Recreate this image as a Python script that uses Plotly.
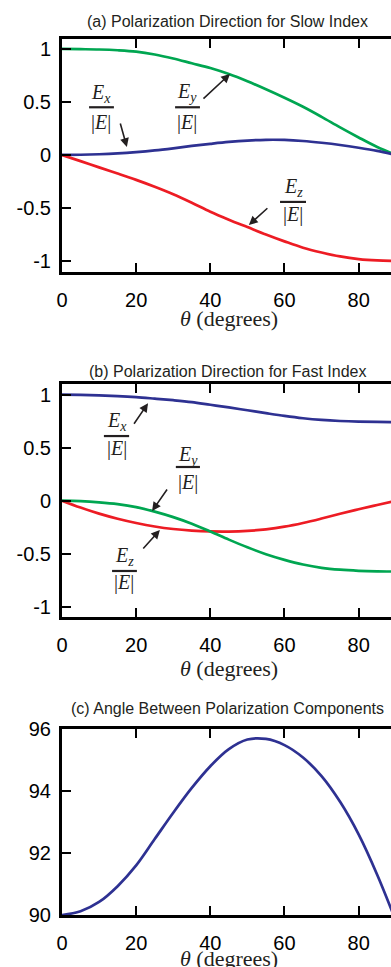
import plotly.graph_objects as go

# ---------------- data ----------------
theta = [0, 5, 10, 15, 20, 25, 30, 35, 40, 45, 50, 55, 60, 65, 70, 75, 80, 85, 90]

# (a) slow index
slow_ex = [0.0, 0.002, 0.007, 0.015, 0.027, 0.043, 0.063, 0.085, 0.105, 0.123, 0.136,
           0.143, 0.142, 0.132, 0.115, 0.094, 0.068, 0.038, 0.0]
slow_ey = [1.0, 0.998, 0.995, 0.988, 0.975, 0.948, 0.91, 0.865, 0.82, 0.763, 0.695,
           0.62, 0.54, 0.455, 0.36, 0.26, 0.165, 0.075, 0.0]
slow_ez = [0.0, -0.058, -0.117, -0.175, -0.235, -0.30, -0.37, -0.45, -0.535, -0.61, -0.68,
           -0.75, -0.815, -0.875, -0.92, -0.957, -0.982, -0.995, -1.0]

# (b) fast index
fast_ex = [1.0, 0.998, 0.994, 0.987, 0.977, 0.963, 0.948, 0.93, 0.905, 0.88, 0.853,
           0.826, 0.80, 0.778, 0.762, 0.752, 0.746, 0.743, 0.742]
fast_ey = [0.0, -0.004, -0.015, -0.032, -0.06, -0.103, -0.155, -0.217, -0.29, -0.367, -0.44,
           -0.505, -0.558, -0.602, -0.633, -0.651, -0.661, -0.666, -0.668]
fast_ez = [0.0, -0.065, -0.122, -0.17, -0.21, -0.243, -0.267, -0.282, -0.29, -0.291, -0.285,
           -0.27, -0.245, -0.21, -0.168, -0.123, -0.08, -0.04, 0.0]

# (c) angle between polarization components (degrees)
angle = [90.0, 90.12, 90.42, 90.93, 91.6, 92.45, 93.3, 94.1, 94.8, 95.35, 95.66,
         95.68, 95.48, 95.08, 94.48, 93.65, 92.6, 91.3, 89.82]

x_ticks = [0, 20, 40, 60, 80]
x_ticktext = ["0", "20", "40", "60", "80"]
ab_ticks = [-1, -0.5, 0, 0.5, 1]
ab_ticktext = ["-1", "-0.5", "0", "0.5", "1"]
c_ticks = [90, 92, 94, 96]
c_ticktext = ["90", "92", "94", "96"]

titles = ["(a) Polarization Direction for Slow Index",
          "(b) Polarization Direction for Fast Index",
          "(c) Angle Between Polarization Components"]
x_title = "<i>θ</i> (degrees)"

# ---------------- styling ----------------
W, H = 391, 967
BLUE = "#2E3192"
GREEN = "#00A651"
RED = "#ED1C24"
INK = "#231F20"
SANS = "Liberation Sans, Arial, sans-serif"
SERIF = "Liberation Serif, Times New Roman, serif"

def py(p):  # pixel row -> paper y
    return 1 - p / H

def px(p):  # pixel column -> paper x
    return p / W

X0 = 62
x_dom = [px(X0), 1.0]
x_range = [0, (W - X0) / 3.708]

panels = [  # (top px, bottom px, y range)
    (39, 272, [-1.104, 1.094]),
    (384, 617, [-1.097, 1.101]),
    (729, 915, [90, 96]),
]

fig = go.Figure()

def add_line(x, y, color, k):
    fig.add_trace(go.Scatter(x=x, y=y, mode="lines",
                             line=dict(color=color, width=2.7, shape="spline", smoothing=1.0),
                             xaxis="x" if k == 1 else f"x{k}", yaxis="y" if k == 1 else f"y{k}",
                             showlegend=False, hoverinfo="skip"))

add_line(theta, slow_ey, GREEN, 1)
add_line(theta, slow_ex, BLUE, 1)
add_line(theta, slow_ez, RED, 1)
add_line(theta, fast_ex, BLUE, 2)
add_line(theta, fast_ez, RED, 2)
add_line(theta, fast_ey, GREEN, 2)
add_line(theta, angle, BLUE, 3)

layout = dict(width=W, height=H, margin=dict(l=0, r=0, t=0, b=0, pad=0), autosize=False,
              paper_bgcolor="white", plot_bgcolor="white", showlegend=False)

tickfont = dict(family=SANS, size=20, color="black")
for i, (top, bot, yr) in enumerate(panels, start=1):
    xs = "" if i == 1 else str(i)
    ys_main = "" if i == 1 else str(i)
    yt, ytt = (c_ticks, c_ticktext) if i == 3 else (ab_ticks, ab_ticktext)
    layout[f"xaxis{xs}"] = dict(domain=x_dom, anchor=f"y{ys_main}", range=x_range,
                                tickvals=x_ticks, ticktext=x_ticktext, ticks="inside",
                                ticklen=9, tickwidth=2, tickcolor="black",
                                showline=True, linewidth=3, linecolor="black", mirror="ticks",
                                showgrid=False, zeroline=False, tickfont=tickfont,
                                ticklabelstandoff=8, automargin=False)
    layout[f"yaxis{ys_main}"] = dict(domain=[py(bot), py(top)], anchor=f"x{xs}", range=yr,
                                     tickvals=yt, ticktext=ytt, ticks="inside",
                                     ticklen=9, tickwidth=2, tickcolor="black",
                                     showline=True, linewidth=3, linecolor="black",
                                     showgrid=False, zeroline=False, tickfont=tickfont,
                                     ticklabelstandoff=4, automargin=False)
    # right-hand ticks without a frame line (frame is cut off at window edge)
    layout[f"yaxis{i + 3}"] = dict(overlaying=f"y{ys_main}", anchor=f"x{xs}", side="right",
                                  range=yr, tickvals=yt, ticks="inside", ticklen=6, tickwidth=2,
                                  tickcolor="black", showticklabels=False, showline=False,
                                  showgrid=False, zeroline=False, automargin=False)

fig.update_layout(**layout)

ann = []
title_y = [21, 371.5, 708]
xtitle_y = [318, 668, 958.5]
for t, ty, xty in zip(titles, title_y, xtitle_y):
    ann.append(dict(text=t, x=px(227), y=py(ty), xref="paper", yref="paper",
                    xanchor="center", yanchor="middle", showarrow=False,
                    font=dict(family=SANS, size=16, color=INK)))
    ann.append(dict(text=x_title, x=px(229), y=py(xty), xref="paper", yref="paper",
                    xanchor="center", yanchor="middle", showarrow=False,
                    font=dict(family=SERIF, size=22, color=INK)))

frac_font = dict(family=SERIF, size=20, color=INK)
shapes = []

def fraction(sub, xc, y_num, y_bar, y_den, xb0, xb1, k):
    xr = "x" if k == 1 else f"x{k}"
    yr = "y" if k == 1 else f"y{k}"
    ann.append(dict(text=f"<i>E<sub>{sub}</sub></i>", x=xc, y=y_num, xref=xr, yref=yr,
                    showarrow=False, font=frac_font, xanchor="center", yanchor="middle"))
    ann.append(dict(text="|<i>E</i>|", x=xc, y=y_den, xref=xr, yref=yr,
                    showarrow=False, font=frac_font, xanchor="center", yanchor="middle"))
    shapes.append(dict(type="line", xref=xr, yref=yr, x0=xb0, x1=xb1, y0=y_bar, y1=y_bar,
                       line=dict(color=INK, width=2.2)))

def arrow(xh, yh, ax, ay, k):
    xr = "x" if k == 1 else f"x{k}"
    yr = "y" if k == 1 else f"y{k}"
    ann.append(dict(text="", x=xh, y=yh, xref=xr, yref=yr, showarrow=True, ax=ax, ay=ay,
                    arrowhead=2, arrowsize=1.1, arrowwidth=1.6, arrowcolor=INK))

# panel (a)
fraction("x", 10.6, 0.58, 0.45, 0.31, 7.3, 14.0, 1)
arrow(17.5, 0.075, -7, -25, 1)
fraction("y", 33.8, 0.585, 0.45, 0.31, 30.5, 37.2, 1)
arrow(45.3, 0.764, -28, 26, 1)
fraction("z", 62.3, -0.31, -0.443, -0.566, 58.8, 65.8, 1)
arrow(50.4, -0.66, 20, -18, 1)
# panel (b)
fraction("x", 14.7, 0.75, 0.61, 0.497, 11.3, 18.1, 2)
arrow(23.2, 0.92, -15, 22, 2)
fraction("y", 34.0, 0.43, 0.318, 0.176, 30.7, 37.2, 2)
arrow(24.3, -0.097, 16, -23, 2)
fraction("z", 16.8, -0.53, -0.663, -0.776, 13.5, 20.2, 2)
arrow(26.4, -0.276, -18, 20, 2)

fig.update_layout(annotations=ann, shapes=shapes)
fig.write_html("out.html", config={"displayModeBar": False},
               post_script="document.body.style.margin='0';document.body.style.overflow='hidden';")
